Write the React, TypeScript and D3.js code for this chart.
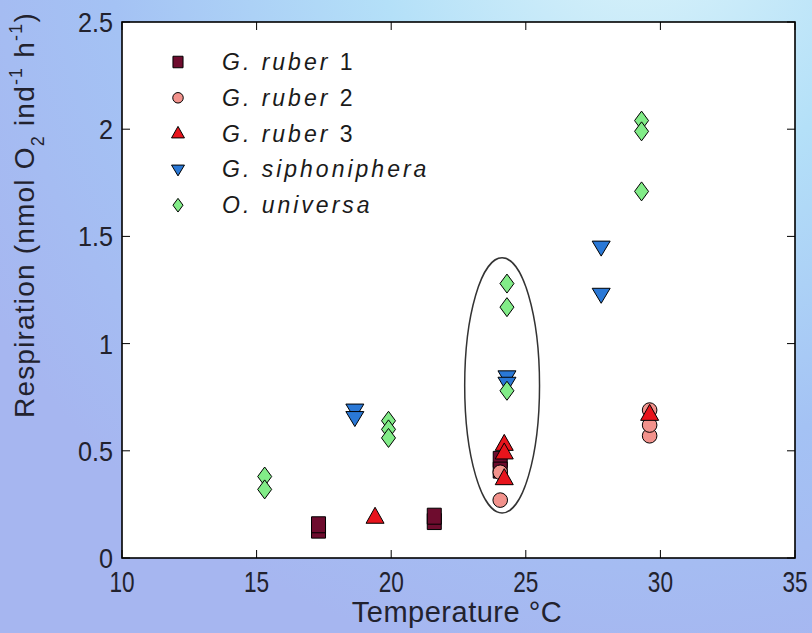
import React from "react";
import * as d3 from "d3";

// temperature (°C) and respiration (nmol O2 ind-1 h-1) per series
const ruber1Temp = [17.3, 17.3, 21.6, 21.6, 24.05, 24.05];
const ruber1Resp = [0.13, 0.155, 0.17, 0.195, 0.46, 0.41];

const ruber2Temp = [24.05, 24.05, 29.6, 29.6, 29.6];
const ruber2Resp = [0.27, 0.4, 0.57, 0.62, 0.69];

const ruber3Temp = [19.4, 24.2, 24.2, 24.2, 29.6];
const ruber3Resp = [0.19, 0.53, 0.49, 0.37, 0.67];

const siphTemp = [18.65, 18.65, 24.3, 24.3, 27.8, 27.8];
const siphResp = [0.69, 0.655, 0.845, 0.815, 1.45, 1.23];

const univTemp = [15.3, 15.3, 19.9, 19.9, 19.9, 24.3, 24.3, 24.3, 29.3, 29.3, 29.3];
const univResp = [0.38, 0.32, 0.64, 0.6, 0.56, 1.28, 1.17, 0.78, 2.04, 1.99, 1.71];

const xTicks = [10, 15, 20, 25, 30, 35];
const yTicks = [0, 0.5, 1, 1.5, 2, 2.5];

// circled group at ~24 °C
const ellipseCenter = [24.12, 0.805];
const ellipseRadius = [1.39, 0.595];

type Shape = "square" | "circle" | "triangle" | "down" | "diamond";

const series: { name: string; num?: string; shape: Shape; color: string; temp: number[]; resp: number[] }[] = [
  { name: "G. ruber", num: " 1", shape: "square", color: "#6e0c2e", temp: ruber1Temp, resp: ruber1Resp },
  { name: "G. ruber", num: " 2", shape: "circle", color: "#f2928c", temp: ruber2Temp, resp: ruber2Resp },
  { name: "G. ruber", num: " 3", shape: "triangle", color: "#e8141c", temp: ruber3Temp, resp: ruber3Resp },
  { name: "G. siphoniphera", shape: "down", color: "#2a78d6", temp: siphTemp, resp: siphResp },
  { name: "O. universa", shape: "diamond", color: "#82ec88", temp: univTemp, resp: univResp },
];

function markerPath(shape: Shape, k: number) {
  // k scales marker size (1 = plot marker)
  const w = 7 * k;
  const h = 8 * k;
  switch (shape) {
    case "square":
      return `M${-w},${-h}H${w}V${h}H${-w}Z`;
    case "circle": {
      const p = d3.path();
      p.arc(0, 0, 7.3 * k, 0, Math.PI * 2);
      return p.toString();
    }
    case "triangle":
      return `M0,${-10 * k}L${9 * k},${6 * k}L${-9 * k},${6 * k}Z`;
    case "down":
      return `M0,${9 * k}L${9 * k},${-6 * k}L${-9 * k},${-6 * k}Z`;
    case "diamond":
      return `M0,${-9.5 * k}L${7 * k},0L0,${9.5 * k}L${-7 * k},0Z`;
  }
}

export default function App() {
  const width = 812;
  const height = 633;
  const left = 122;
  const right = 795;
  const top = 22;
  const bottom = 558;

  const x = d3.scaleLinear().domain([10, 35]).range([left, right]);
  const y = d3.scaleLinear().domain([0, 2.5]).range([bottom, top]);

  const font = "'Liberation Sans', Arial, sans-serif";
  const ink = "#22222e";
  const tickLen = 8;

  return (
    <svg width={width} height={height} style={{ display: "block", position: "absolute", left: 0, top: 0 }}>
      <defs>
        <radialGradient id="bg" cx="640" cy="-80" r="760" gradientUnits="userSpaceOnUse">
          <stop offset="0" stopColor="#dcf4fa" />
          <stop offset="0.35" stopColor="#b4e0f8" />
          <stop offset="0.7" stopColor="#a4c2f4" />
          <stop offset="1" stopColor="#a6b6f0" />
        </radialGradient>
      </defs>
      <rect width={width} height={height} fill="url(#bg)" />

      <rect x={left} y={top} width={right - left} height={bottom - top} fill="#ffffff" />

      {/* ticks on all sides, pointing in */}
      {xTicks.map((t) => (
        <g key={"xt" + t}>
          <line x1={x(t)} x2={x(t)} y1={bottom} y2={bottom - tickLen} stroke="#000" />
          <line x1={x(t)} x2={x(t)} y1={top} y2={top + tickLen} stroke="#000" />
          <text
            transform={`translate(${x(t)},592) scale(0.78,1)`}
            textAnchor="middle"
            fontFamily={font}
            fontSize={29}
            fill={ink}
          >
            {t}
          </text>
        </g>
      ))}
      {yTicks.map((t) => (
        <g key={"yt" + t}>
          <line x1={left} x2={left + tickLen} y1={y(t)} y2={y(t)} stroke="#000" />
          <line x1={right} x2={right - tickLen} y1={y(t)} y2={y(t)} stroke="#000" />
          <text
            transform={`translate(113,${y(t) + 10}) scale(0.9,1)`}
            textAnchor="end"
            fontFamily={font}
            fontSize={28}
            fill={ink}
          >
            {t === 0 ? "0" : d3.format(".1~f")(t)}
          </text>
        </g>
      ))}

      <rect x={left} y={top} width={right - left} height={bottom - top} fill="none" stroke="#000" strokeWidth={1.6} />

      <ellipse
        cx={x(ellipseCenter[0])}
        cy={y(ellipseCenter[1])}
        rx={x(ellipseCenter[0] + ellipseRadius[0]) - x(ellipseCenter[0])}
        ry={y(ellipseCenter[1]) - y(ellipseCenter[1] + ellipseRadius[1])}
        fill="none"
        stroke="#333"
        strokeWidth={1.5}
      />

      {series.map((s) =>
        s.temp.map((t, i) => (
          <path
            key={s.name + (s.num || "") + i}
            d={markerPath(s.shape, 1)}
            transform={`translate(${x(t)},${y(s.resp[i])})`}
            fill={s.color}
            stroke="#000"
            strokeWidth={1}
          />
        ))
      )}

      {/* legend */}
      {series.map((s, i) => {
        const ly = 62 + i * 35.8;
        return (
          <g key={"lg" + i}>
            <path d={markerPath(s.shape, 0.72)} transform={`translate(178,${ly})`} fill={s.color} stroke="#000" strokeWidth={1} />
            <text x={222} y={ly + 8} fontFamily={font} fontSize={23} letterSpacing={3} fill="#1a1a1a">
              <tspan fontStyle="italic">{s.name}</tspan>
              {s.num && <tspan>{s.num}</tspan>}
            </text>
          </g>
        );
      })}

      <text x={457} y={622} textAnchor="middle" fontFamily={font} fontSize={29} letterSpacing={0.5} fill={ink}>
        Temperature °C
      </text>

      <text
        transform="translate(34,215) rotate(-90)"
        textAnchor="middle"
        fontFamily={font}
        fontSize={28}
        letterSpacing={1.2}
        fill={ink}
      >
        Respiration (nmol O
        <tspan dy={10} fontSize={18}>2</tspan>
        <tspan dy={-10}> ind</tspan>
        <tspan dy={-12} fontSize={18}>-1</tspan>
        <tspan dy={12}> h</tspan>
        <tspan dy={-12} fontSize={18}>-1</tspan>
        <tspan dy={12}>)</tspan>
      </text>
    </svg>
  );
}
